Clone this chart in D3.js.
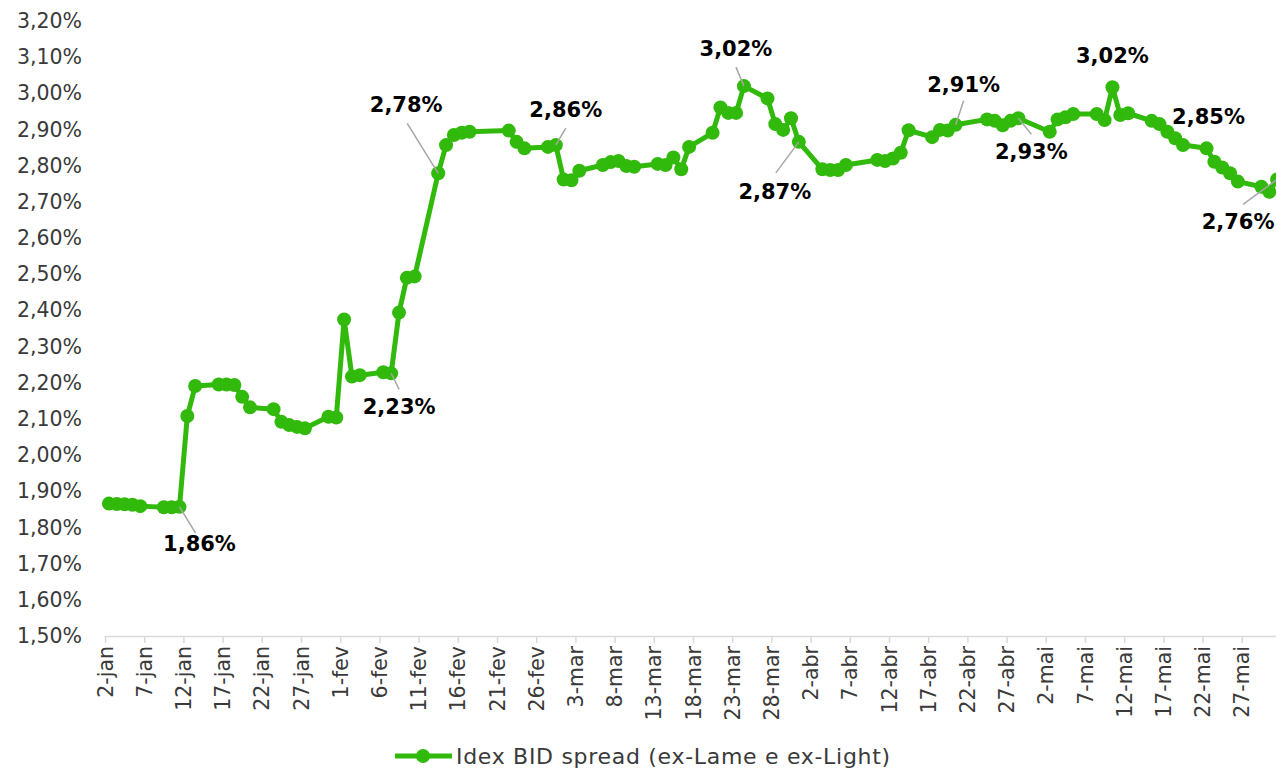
<!DOCTYPE html>
<html>
<head>
<meta charset="utf-8">
<script src="https://cdn.jsdelivr.net/npm/d3@7"></script>
<style>
  body { margin: 0; background: #fff; }
  svg { display: block; font-family: "DejaVu Sans", sans-serif; }
</style>
</head>
<body>
<div id="chart"></div>
<script>
// dates (2023) and spread values in %
const dates = [
  "2023-01-02","2023-01-03","2023-01-04","2023-01-05","2023-01-06","2023-01-09","2023-01-10","2023-01-11",
  "2023-01-12","2023-01-13","2023-01-16","2023-01-17","2023-01-18","2023-01-19","2023-01-20","2023-01-23",
  "2023-01-24","2023-01-25","2023-01-26","2023-01-27","2023-01-30","2023-01-31","2023-02-01","2023-02-02",
  "2023-02-03","2023-02-06","2023-02-07","2023-02-08","2023-02-09","2023-02-10","2023-02-13","2023-02-14",
  "2023-02-15","2023-02-16","2023-02-17","2023-02-22","2023-02-23","2023-02-24","2023-02-27","2023-02-28",
  "2023-03-01","2023-03-02","2023-03-03","2023-03-06","2023-03-07","2023-03-08","2023-03-09","2023-03-10",
  "2023-03-13","2023-03-14","2023-03-15","2023-03-16","2023-03-17","2023-03-20","2023-03-21","2023-03-22",
  "2023-03-23","2023-03-24","2023-03-27","2023-03-28","2023-03-29","2023-03-30","2023-03-31","2023-04-03",
  "2023-04-04","2023-04-05","2023-04-06","2023-04-10","2023-04-11","2023-04-12","2023-04-13","2023-04-14",
  "2023-04-17","2023-04-18","2023-04-19","2023-04-20","2023-04-24","2023-04-25","2023-04-26","2023-04-27",
  "2023-04-28","2023-05-02","2023-05-03","2023-05-04","2023-05-05","2023-05-08","2023-05-09","2023-05-10",
  "2023-05-11","2023-05-12","2023-05-15","2023-05-16","2023-05-17","2023-05-18","2023-05-19","2023-05-22",
  "2023-05-23","2023-05-24","2023-05-25","2023-05-26","2023-05-29","2023-05-30","2023-05-31"
];
const spread = [
  1.866,1.865,1.864,1.863,1.859,1.856,1.856,1.857,
  2.108,2.191,2.195,2.195,2.194,2.161,2.132,2.127,
  2.092,2.083,2.078,2.074,2.106,2.104,2.375,2.217,
  2.221,2.229,2.226,2.394,2.490,2.494,2.779,2.857,
  2.885,2.891,2.894,2.897,2.866,2.848,2.852,2.857,
  2.762,2.760,2.786,2.802,2.810,2.813,2.799,2.797,
  2.805,2.802,2.823,2.790,2.852,2.891,2.961,2.946,
  2.946,3.020,2.986,2.915,2.899,2.931,2.866,2.790,
  2.788,2.788,2.802,2.816,2.813,2.820,2.836,2.898,
  2.879,2.899,2.897,2.913,2.928,2.924,2.912,2.924,
  2.931,2.894,2.928,2.934,2.943,2.943,2.926,3.017,
  2.940,2.945,2.924,2.915,2.894,2.876,2.857,2.848,
  2.811,2.795,2.779,2.756,2.742,2.728,2.762
];
const yTicks = d3.range(15, 33).map(v => v / 10);
const axisStart = "2023-01-02", axisEnd = "2023-06-01";
const labelledDates = ["2023-01-11","2023-02-07","2023-02-13","2023-02-28","2023-03-24","2023-03-31",
                       "2023-04-20","2023-04-28","2023-05-10","2023-05-22","2023-05-31"];
const seriesName = "Idex BID spread (ex-Lame e ex-Light)";

// label placement: offset of label centre from point, leader end offset
const labelPos = {
  "2023-01-11": {dx: 20, dy: 38, leader: [16, 26]},
  "2023-02-07": {dx: 8, dy: 35, leader: [8, 16]},
  "2023-02-13": {dx: -32, dy: -67, leader: [-31, -50]},
  "2023-02-28": {dx: 10, dy: -34, leader: [10, -17]},
  "2023-03-24": {dx: -8, dy: -36, leader: [-8, -19]},
  "2023-03-31": {dx: -24, dy: 51, leader: [-23, 31]},
  "2023-04-20": {dx: 8, dy: -39, leader: [8, -24]},
  "2023-04-28": {dx: 13, dy: 35, leader: [13, 16]},
  "2023-05-10": {dx: 0, dy: -30, leader: null},
  "2023-05-22": {dx: 2, dy: -30, leader: null},
  "2023-05-31": {dx: -39, dy: 44, leader: [-34, 25]}
};

const W = 1276, H = 772;
const parse = d3.timeParse("%Y-%m-%d");
const data = dates.map((d, i) => ({key: d, date: parse(d), value: spread[i]}));

const ptLocale = d3.formatLocale({decimal: ",", thousands: ".", grouping: [3], currency: ["R$", ""]});
const fmt = v => ptLocale.format(".2f")(v) + "%";
const timeLoc = d3.timeFormatLocale({
  dateTime: "%d/%m/%Y %H:%M:%S", date: "%d/%m/%Y", time: "%H:%M:%S", periods: ["AM", "PM"],
  days: ["domingo","segunda","terça","quarta","quinta","sexta","sábado"],
  shortDays: ["dom","seg","ter","qua","qui","sex","sáb"],
  months: ["janeiro","fevereiro","março","abril","maio","junho","julho","agosto","setembro","outubro","novembro","dezembro"],
  shortMonths: ["jan","fev","mar","abr","mai","jun","jul","ago","set","out","nov","dez"]
});
const xFmt = timeLoc.format("%-d-%b");

const svg = d3.select("#chart").append("svg").attr("width", W).attr("height", H);

const x = d3.scaleTime().domain([parse(axisStart), parse(axisEnd)]).range([105, 1281]);
const half = (x(parse("2023-01-03")) - x(parse("2023-01-02"))) / 2;
const px = d => x(d) + half;
const y = d3.scaleLinear().domain([1.5, 3.2]).range([636, 21]);

// y axis (labels only)
svg.append("g")
  .attr("transform", "translate(105,0)")
  .call(d3.axisLeft(y).tickValues(yTicks).tickFormat(fmt).tickSize(0).tickPadding(23))
  .call(g => g.select(".domain").remove())
  .call(g => g.selectAll("text").attr("font-size", 20.5).attr("fill", "#3a3a3a").attr("font-family", "DejaVu Sans"));

// x axis
const xTicks = d3.timeDay.range(parse(axisStart), parse("2023-05-28"), 5);
svg.append("g")
  .attr("transform", "translate(0,636)")
  .call(d3.axisBottom(x).tickValues(xTicks).tickFormat(xFmt).tickSize(7).tickSizeOuter(0))
  .call(g => g.select(".domain").attr("stroke", "#d9d9d9").attr("stroke-width", 1.5))
  .call(g => g.selectAll(".tick line").attr("stroke", "#d9d9d9").attr("stroke-width", 1.5))
  .call(g => g.selectAll("text")
    .attr("font-size", 20.5).attr("fill", "#3a3a3a").attr("font-family", "DejaVu Sans")
    .attr("transform", "rotate(-90)")
    .attr("text-anchor", "end")
    .attr("x", -10).attr("y", 0).attr("dy", "0.35em"));

const green = "#31b90c";

svg.append("path")
  .datum(data)
  .attr("fill", "none")
  .attr("stroke", green)
  .attr("stroke-width", 5)
  .attr("stroke-linejoin", "round")
  .attr("d", d3.line().x(d => px(d.date)).y(d => y(d.value)));

svg.append("g").selectAll("circle")
  .data(data)
  .join("circle")
  .attr("cx", d => px(d.date))
  .attr("cy", d => y(d.value))
  .attr("r", 7)
  .attr("fill", green);

// data labels
const lab = svg.append("g");
data.filter(d => labelledDates.includes(d.key)).forEach(d => {
  const p = labelPos[d.key];
  const cx = px(d.date), cy = y(d.value);
  if (p.leader) {
    lab.append("line")
      .attr("x1", cx).attr("y1", cy)
      .attr("x2", cx + p.leader[0]).attr("y2", cy + p.leader[1])
      .attr("stroke", "#a6a6a6").attr("stroke-width", 1.5);
  }
  lab.append("text")
    .attr("x", cx + p.dx).attr("y", cy + p.dy)
    .attr("text-anchor", "middle").attr("dominant-baseline", "middle")
    .attr("font-size", 21).attr("font-weight", "bold").attr("fill", "#000")
    .text(fmt(d.value));
});

// legend
const leg = svg.append("g").attr("transform", "translate(0,756)");
leg.append("line").attr("x1", 395).attr("x2", 452).attr("stroke", green).attr("stroke-width", 5);
leg.append("circle").attr("cx", 423).attr("r", 7).attr("fill", green);
leg.append("text").attr("x", 456).attr("dy", "0.35em")
  .attr("font-size", 22).attr("letter-spacing", 0.7).attr("fill", "#3a3a3a").text(seriesName);
</script>
</body>
</html>
